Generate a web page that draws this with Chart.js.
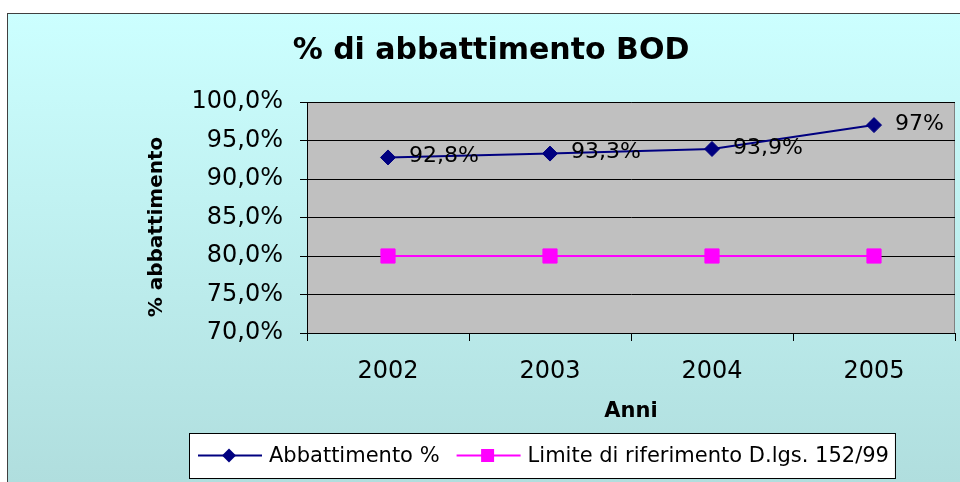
<!DOCTYPE html>
<html>
<head>
<meta charset="utf-8">
<script src="https://cdn.jsdelivr.net/npm/chart.js@4/dist/chart.umd.min.js"></script>
<style>
  html, body { margin: 0; padding: 0; background: #fff; }
  canvas { display: block; }
</style>
</head>
<body>
<canvas id="bod" width="960" height="482"></canvas>
<script>
/* global Chart */
const years = ["2002", "2003", "2004", "2005"];
const abbattimento = [92.8, 93.3, 93.9, 97];
const limite = [80, 80, 80, 80];
const yTicks = [70, 75, 80, 85, 90, 95, 100];

const FONT = "'DejaVu Sans', sans-serif";

function fmtPct(v) {
  return String(v).replace(".", ",") + "%";
}

// sfondo, bordo esterno, area grigia
const backdrop = {
  id: "backdrop",
  beforeDraw(chart) {
    const { ctx, chartArea: a } = chart;
    ctx.save();
    ctx.fillStyle = "#ffffff";
    ctx.fillRect(0, 0, chart.width, chart.height);
    const g = ctx.createLinearGradient(0, 13, 0, chart.height);
    g.addColorStop(0, "#ccffff");
    g.addColorStop(1, "#b0dede");
    ctx.fillStyle = g;
    ctx.fillRect(7, 13, chart.width, chart.height);
    ctx.strokeStyle = "#404040";
    ctx.lineWidth = 1;
    ctx.strokeRect(7.5, 13.5, chart.width + 10, chart.height + 10);
    ctx.fillStyle = "#c0c0c0";
    ctx.fillRect(a.left, a.top, a.right - a.left, a.bottom - a.top);
    ctx.strokeStyle = "#808080";
    ctx.strokeRect(a.left + 0.5, a.top + 0.5, a.right - a.left - 1, a.bottom - a.top);
    ctx.restore();
  },
};

// titoli, etichette dei valori, legenda
const overlay = {
  id: "overlay",
  afterDatasetsDraw(chart) {
    const { ctx } = chart;
    const meta = chart.getDatasetMeta(0);
    ctx.save();
    ctx.fillStyle = "#000";
    ctx.font = "22px " + FONT;
    ctx.textBaseline = "middle";
    ctx.textAlign = "left";
    meta.data.forEach((pt, i) => {
      ctx.fillText(fmtPct(abbattimento[i]), pt.x + 21, pt.y - 1);
    });
    ctx.restore();
  },
  afterDraw(chart) {
    const { ctx, chartArea: a } = chart;
    ctx.save();
    ctx.fillStyle = "#000";
    ctx.textAlign = "center";
    ctx.textBaseline = "middle";
    ctx.font = "bold 30px " + FONT;
    ctx.fillText("% di abbattimento BOD", 491, 51);
    ctx.font = "bold 21px " + FONT;
    ctx.fillText("Anni", (a.left + a.right) / 2, 412);
    ctx.save();
    ctx.translate(157, 227);
    ctx.rotate(-Math.PI / 2);
    ctx.font = "bold 20px " + FONT;
    ctx.fillText("% abbattimento", 0, 0);
    ctx.restore();

    // legenda
    const ds = chart.data.datasets;
    ctx.font = "21px " + FONT;
    const left = 189, top = 433, h = 45, cy = top + h / 2;
    let x = left + 9;
    const items = [];
    ds.forEach((d) => {
      const tw = ctx.measureText(d.label).width;
      items.push({ d, x, tw });
      x += 64 + 7 + tw + 17;
    });
    const right = items[items.length - 1].x + 71 + items[items.length - 1].tw + 6;
    ctx.fillStyle = "#fff";
    ctx.fillRect(left, top, right - left, h);
    ctx.strokeStyle = "#000";
    ctx.lineWidth = 1;
    ctx.strokeRect(left + 0.5, top + 0.5, right - left, h);
    items.forEach(({ d, x: ix }) => {
      ctx.strokeStyle = d.borderColor;
      ctx.lineWidth = 2;
      ctx.beginPath();
      ctx.moveTo(ix, cy);
      ctx.lineTo(ix + 64, cy);
      ctx.stroke();
      ctx.fillStyle = d.backgroundColor;
      const mx = ix + 31;
      ctx.beginPath();
      if (d.pointStyle === "rectRot") {
        const r = 7;
        ctx.moveTo(mx, cy - r);
        ctx.lineTo(mx + r, cy);
        ctx.lineTo(mx, cy + r);
        ctx.lineTo(mx - r, cy);
        ctx.closePath();
      } else {
        ctx.rect(mx - 6.5, cy - 6.5, 13, 13);
      }
      ctx.fill();
      ctx.fillStyle = "#000";
      ctx.textAlign = "left";
      ctx.fillText(d.label, ix + 71, cy + 1);
    });
    ctx.restore();
  },
};

new Chart(document.getElementById("bod"), {
  type: "line",
  data: {
    labels: years,
    datasets: [
      {
        label: "Abbattimento %",
        data: abbattimento,
        borderColor: "#000080",
        backgroundColor: "#000080",
        borderWidth: 2,
        pointStyle: "rectRot",
        pointRadius: 7.5,
        pointHoverRadius: 7.5,
        pointBorderWidth: 1,
        tension: 0,
      },
      {
        label: "Limite di riferimento D.lgs. 152/99",
        data: limite,
        borderColor: "#ff00ff",
        backgroundColor: "#ff00ff",
        borderWidth: 2,
        pointStyle: "rect",
        pointRadius: 10,
        pointHoverRadius: 10,
        pointBorderWidth: 1,
        tension: 0,
      },
    ],
  },
  options: {
    responsive: false,
    animation: false,
    layout: { autoPadding: false, padding: { top: 102, right: 5, left: 0, bottom: 0 } },
    plugins: { legend: { display: false }, title: { display: false }, tooltip: { enabled: false } },
    scales: {
      x: {
        offset: true,
        afterFit: (s) => {
          s.height = 149;
          s.paddingLeft = 0;
          s.paddingRight = 0;
        },
        grid: { offset: true, drawOnChartArea: false, tickLength: 8, color: "#000" },
        border: { color: "#000" },
        ticks: { color: "#000", font: { family: FONT, size: 24 }, padding: 16 },
      },
      y: {
        min: yTicks[0],
        max: yTicks[yTicks.length - 1],
        afterFit: (s) => {
          s.width = 307;
          s.paddingTop = 0;
          s.paddingBottom = 0;
        },
        afterBuildTicks: (s) => { s.ticks = yTicks.map((v) => ({ value: v })); },
        grid: { color: "#000", tickLength: 7 },
        border: { color: "#000" },
        ticks: {
          color: "#000",
          font: { family: FONT, size: 24 },
          padding: 17,
          callback: (v) => v.toFixed(1).replace(".", ",") + "%",
        },
      },
    },
  },
  plugins: [backdrop, overlay],
});
</script>
</body>
</html>
